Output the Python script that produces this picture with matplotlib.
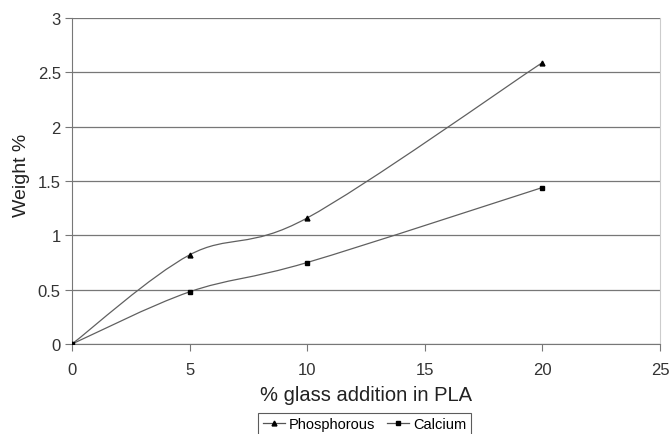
import matplotlib
matplotlib.use('Agg')
import matplotlib.pyplot as plt
from matplotlib.path import Path
from matplotlib.patches import PathPatch
from matplotlib.lines import Line2D

plt.rcParams['font.family'] = ['Liberation Sans', 'DejaVu Sans']

glass = [0, 5, 10, 20]
phosphorous = [0, 0.82, 1.16, 2.59]
calcium = [0, 0.48, 0.75, 1.44]


def smooth_path(xs, ys):
    '''
    excel-style smoothed line: cubic bezier with control points at 1/6 of neighbour span
    '''
    pts = list(zip(xs, ys))
    n = len(pts)
    verts = [pts[0]]
    codes = [Path.MOVETO]
    for i in range(n - 1):
        p0 = pts[i - 1] if i > 0 else pts[i]
        p1 = pts[i]
        p2 = pts[i + 1]
        p3 = pts[i + 2] if i + 2 < n else pts[i + 1]
        c1 = (p1[0] + (p2[0] - p0[0]) / 6, p1[1] + (p2[1] - p0[1]) / 6)
        c2 = (p2[0] - (p3[0] - p1[0]) / 6, p2[1] - (p3[1] - p1[1]) / 6)
        verts += [c1, c2, p2]
        codes += [Path.CURVE4] * 3
    return Path(verts, codes)


fig = plt.figure(figsize=(6.69, 4.35), dpi=100)
ax = fig.add_axes([0.1076, 0.2069, 0.8789, 0.7494])

for ys, mk in [(phosphorous, '^'), (calcium, 's')]:
    ax.add_patch(PathPatch(smooth_path(glass, ys), facecolor='none',
                           edgecolor='#606060', lw=0.9, zorder=3))
    ax.plot(glass, ys, linestyle='none', marker=mk, markersize=3.5, color='black', zorder=4)

ax.set_xlim(0, 25)
ax.set_ylim(0, 3)
ax.set_xticks([0, 5, 10, 15, 20, 25])
ax.set_yticks([0, 0.5, 1, 1.5, 2, 2.5, 3])
ax.set_yticklabels(['0', '0.5', '1', '1.5', '2', '2.5', '3'])
ax.yaxis.grid(True, color='#777777', lw=0.9)
ax.set_axisbelow(True)
ax.spines['top'].set_visible(False)
ax.spines['right'].set_color('#cccccc')
for s in ['left', 'bottom']:
    ax.spines[s].set_color('#777777')
ax.tick_params(labelcolor='#333333', labelsize=12, length=5, width=0.8, color='#777777')
ax.tick_params(axis='x', pad=8)
ax.tick_params(axis='y', pad=3)

ax.set_xlabel('% glass addition in PLA', fontsize=14.5, color='#222222', labelpad=6)
ax.set_ylabel('Weight %', fontsize=14, color='#222222')
ax.yaxis.set_label_coords(-0.072, 0.52)

handles = [Line2D([], [], color='#555555', lw=0.9, marker='^', markersize=3.5, markerfacecolor='black', markeredgecolor='black'),
           Line2D([], [], color='#555555', lw=0.9, marker='s', markersize=3.5, markerfacecolor='black', markeredgecolor='black')]
leg = fig.legend(handles, ['Phosphorous', 'Calcium'], loc='lower center', bbox_to_anchor=(0.545, -0.02),
                 ncol=2, fontsize=10.5, frameon=True, fancybox=False, edgecolor='#333333',
                 handlelength=1.5, handletextpad=0.3, columnspacing=0.8, borderpad=0.3)
leg.get_frame().set_linewidth(0.8)

plt.savefig('out.png', dpi=100)
